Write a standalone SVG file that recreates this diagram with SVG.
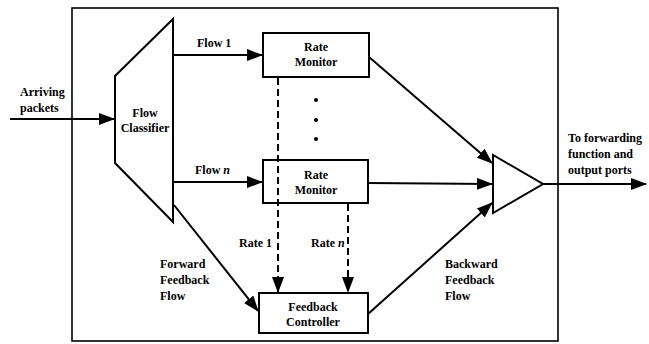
<svg xmlns="http://www.w3.org/2000/svg" width="649" height="344" viewBox="0 0 649 344">
<style>
text{font-family:"Liberation Serif","Times New Roman",serif;font-size:12px;font-weight:bold;fill:#000}
.c{text-anchor:middle}
.ln{stroke:#000;stroke-width:2;fill:none}
.dash{stroke:#000;stroke-width:2;fill:none;stroke-dasharray:7 4}
.box{fill:#fff;stroke:#000;stroke-width:2}
</style>
<defs>
<marker id="ah" markerUnits="userSpaceOnUse" markerWidth="16" markerHeight="12" refX="15" refY="6" orient="auto">
<path d="M0,0 L16,6 L0,12 Z" fill="#000"/>
</marker>
</defs>
<rect id="frame" x="72" y="8" width="486" height="333" fill="none" stroke="#000" stroke-width="1.6"/>
<g id="classifier">
<polygon class="box" points="173,19 115,76 115,163 173,222"/>
<text class="c" x="145" y="117">Flow</text>
<text class="c" x="145" y="132">Classifier</text>
</g>
<g id="rm1">
<rect class="box" x="263" y="33" width="106" height="44"/>
<text class="c" x="316" y="51">Rate</text>
<text class="c" x="316" y="66">Monitor</text>
</g>
<g id="dots">
<circle cx="316" cy="100" r="2" fill="#000"/>
<circle cx="316" cy="120" r="2" fill="#000"/>
<circle cx="316" cy="139" r="2" fill="#000"/>
</g>
<g id="rmn">
<rect class="box" x="263" y="160" width="105" height="43"/>
<text class="c" x="316" y="179">Rate</text>
<text class="c" x="316" y="194">Monitor</text>
</g>
<g id="fbc">
<rect class="box" x="259" y="293" width="109" height="40"/>
<text class="c" x="313" y="311">Feedback</text>
<text class="c" x="313" y="326">Controller</text>
</g>
<g id="combiner">
<polygon class="box" points="493,155 493,213 543,184"/>
</g>
<g id="connectors">
<line class="ln" x1="10" y1="119" x2="114" y2="119" marker-end="url(#ah)"/>
<line class="ln" x1="173" y1="55" x2="262" y2="55" marker-end="url(#ah)"/>
<line class="ln" x1="173" y1="182" x2="262" y2="182" marker-end="url(#ah)"/>
<line class="ln" x1="174" y1="205" x2="258" y2="311" marker-end="url(#ah)"/>
<line class="dash" x1="278" y1="78" x2="278" y2="292" marker-end="url(#ah)"/>
<line class="dash" x1="348" y1="204" x2="348" y2="292" marker-end="url(#ah)"/>
<line class="ln" x1="369" y1="57" x2="492" y2="163" marker-end="url(#ah)"/>
<line class="ln" x1="368" y1="183" x2="492" y2="184" marker-end="url(#ah)"/>
<line class="ln" x1="368" y1="314" x2="492" y2="203" marker-end="url(#ah)"/>
<line class="ln" x1="543" y1="184" x2="646" y2="184" stroke-width="2.5" marker-end="url(#ah)"/>
</g>
<g id="labels">
<text x="20" y="96">Arriving</text>
<text x="20" y="112">packets</text>
<text x="197" y="47">Flow 1</text>
<text x="195" y="174">Flow <tspan font-style="italic">n</tspan></text>
<text x="239" y="247">Rate 1</text>
<text x="311" y="247">Rate <tspan font-style="italic">n</tspan></text>
<text x="160" y="268">Forward</text>
<text x="160" y="284">Feedback</text>
<text x="160" y="300">Flow</text>
<text x="445" y="268">Backward</text>
<text x="445" y="284">Feedback</text>
<text x="445" y="300">Flow</text>
<text x="568" y="142">To forwarding</text>
<text x="568" y="158">function and</text>
<text x="568" y="174">output ports</text>
</g>
</svg>
